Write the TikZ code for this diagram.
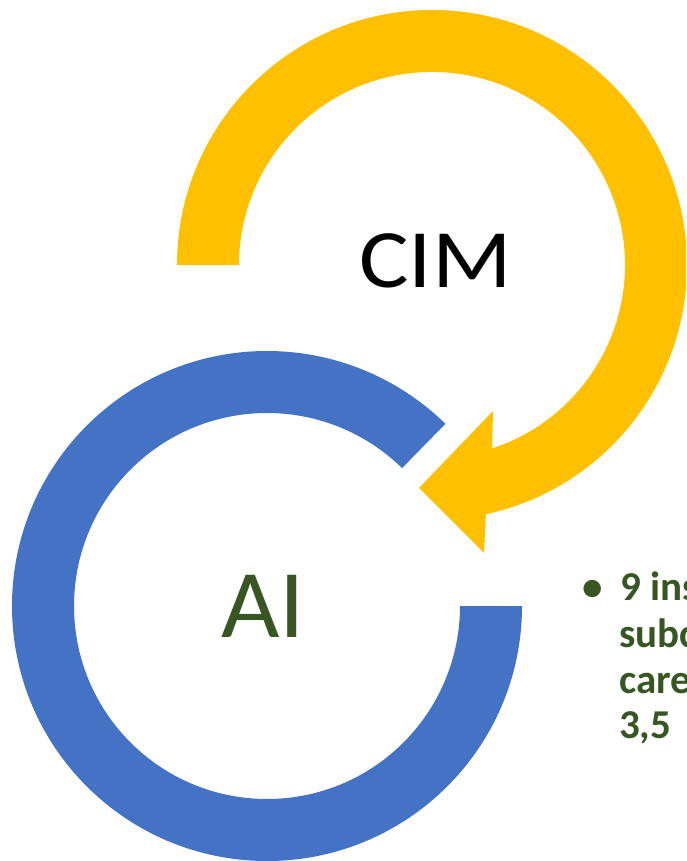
\documentclass[tikz,border=0pt]{standalone}
\usepackage{fontspec}
\usetikzlibrary{calc}
\setmainfont{Carlito}
\definecolor{gold}{HTML}{FFC000}
\definecolor{ringblue}{HTML}{4472C4}
\definecolor{leaf}{HTML}{375623}
\begin{document}
\begin{tikzpicture}[x=1pt,y=-1pt,
  ringgold/.style={fill=gold,draw=none},
  ringblue/.style={fill=ringblue,draw=none},
  bigcim/.style={anchor=base,inner sep=0pt,font=\fontsize{83}{98}\selectfont,text=black,xscale=1.12},
  bigai/.style={anchor=base,inner sep=0pt,font=\fontsize{97}{115}\selectfont,text=leaf,xscale=1.04},
  bulletline/.style={anchor=base west,inner sep=0pt,font=\bfseries\fontsize{41}{46}\selectfont,text=leaf}]
\useasboundingbox (0,0) rectangle (686,861);
\clip (0,0) rectangle (686,861);
% yellow circular arrow, centre (432,265)
\coordinate (cy) at (432,265);
\fill[ringgold] (177,265) arc[start angle=180,end angle=437.8,radius=255]
  -- (484,553) -- (419,488) -- (493,411)
  -- ($(cy)+(431.85:193)$) arc[start angle=431.85,end angle=180,radius=193] -- cycle;
% blue ring, centre (267,606)
\coordinate (cb) at (267,606);
\fill[ringblue] ($(cb)+(0:255)$) arc[start angle=0,end angle=314.4,radius=255]
  -- ($(cb)+(314.4:193)$) arc[start angle=314.4,end angle=0,radius=193] -- cycle;
\node[bigcim] (cim) at (435.5,287) {CIM};
\node[bigai] (ai) at (263,637) {AI};
\node[bulletline,anchor=base] (bul) at (593,600) {•};
\node[bulletline] (l1) at (620,600) {9 ins};
\node[bulletline] (l2) at (619,647) {subc};
\node[bulletline] (l3) at (619,693) {care};
\node[bulletline] (l4) at (619,738) {3,5};
\end{tikzpicture}
\end{document}
